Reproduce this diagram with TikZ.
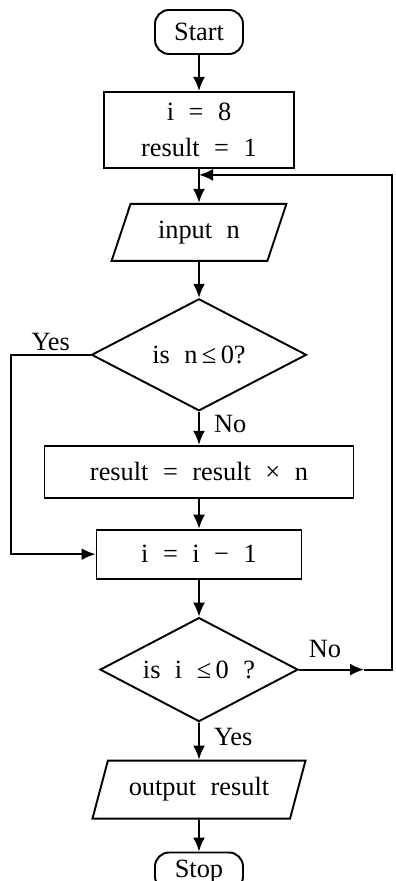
\documentclass[tikz,border=0pt]{standalone}
\usepackage{fontspec}
\setmainfont[WordSpace=2.2]{Liberation Serif}
\usetikzlibrary{shapes.geometric,arrows.meta,positioning,calc}

\begin{document}
\begin{tikzpicture}[every node/.style={font=\fontsize{15}{20}\selectfont}, line width=1.1pt,
    terminal/.style={rectangle, draw, rounded corners=8pt, minimum width=1.76cm, minimum height=0.88cm, inner sep=1pt},
    process/.style={rectangle, draw, minimum height=1.04cm, inner sep=1pt, align=center},
    io/.style={trapezium, trapezium left angle=66, trapezium right angle=114, trapezium stretches=true, draw, minimum height=1.14cm, inner sep=1pt},
    decision/.style={diamond, aspect=2, draw, inner sep=1pt},
    lbl/.style={inner sep=2pt},
    flow/.style={-{Latex[length=2.8mm,width=2.4mm]}}]
    \useasboundingbox (0,0) rectangle (7.92,-17.62);

    % Main column
    \node[terminal] (start) at (3.98,-0.64) {Start};
    \node[process, minimum width=3.8cm, minimum height=1.52cm, below=0.72cm of start] (init) {i = 8\\result = 1};
    \node[io, minimum width=3.5cm, below=0.68cm of init] (input) {input n};
    \node[decision, minimum width=4.3cm, minimum height=2.24cm, below=0.72cm of input] (dec1) {is n\,≤\,0?};
    \node[process, minimum width=6.18cm, below=0.66cm of dec1] (mult) {result = result × n};
    \node[process, minimum width=4.1cm, minimum height=0.98cm, below=0.6cm of mult] (decr) {i = i − 1};
    \node[decision, minimum width=3.96cm, minimum height=2.08cm, below=0.74cm of decr] (dec2) {is i ≤\,0 ?};
    \node[io, minimum width=4.28cm, minimum height=1.16cm, below=0.74cm of dec2] (output) {output result};
    \node[terminal, minimum height=0.76cm, below=0.64cm of output] (stop) {Stop};

    % Helper points for the side lines
    \coordinate (lx) at (0.22,0);
    \coordinate (rm) at (7.28,0);
    \coordinate (rx) at (7.84,0);
    \coordinate (join) at ($(init.south)+(0,-0.12)$);

    % Main flow
    \draw[flow] (start) -- (init);
    \draw[flow] (init) -- (input);
    \draw[flow] (input) -- (dec1);
    \draw[flow] (dec1) -- node[lbl, right=6pt, pos=0.36] {No} (mult);
    \draw[flow] (mult) -- (decr);
    \draw[flow] (decr) -- (dec2);
    \draw[flow] (dec2) -- node[lbl, right=6pt, pos=0.4] {Yes} (output);
    \draw[flow] (output) -- (stop);

    % Yes branch of the first test
    \draw[flow] (dec1.west) -- node[lbl, above, pos=0.5] {Yes} (dec1.west -| lx) |- (decr.west);

    % Loop back
    \draw[flow] (dec2.east) -- node[lbl, above=4pt, pos=0.4] {No} (dec2.east -| rm);
    \draw[flow] (dec2.east -| rm) -- (dec2.east -| rx) |- (join);
\end{tikzpicture}
\end{document}
